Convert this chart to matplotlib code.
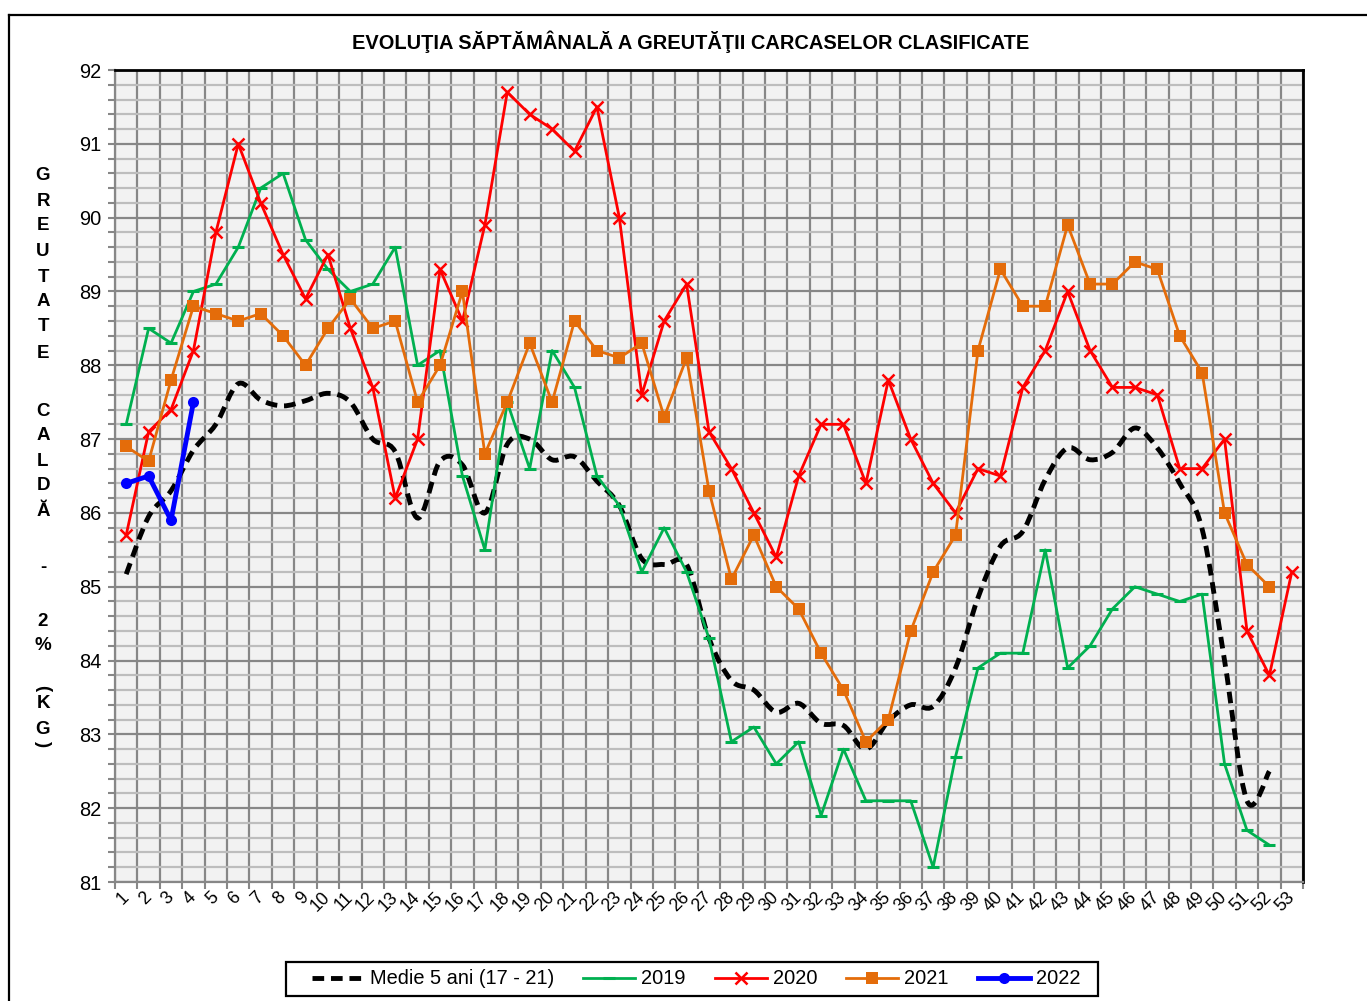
import numpy as np
import matplotlib
matplotlib.use("Agg")
import matplotlib.pyplot as plt
from matplotlib.path import Path
from matplotlib.patches import PathPatch, Rectangle
from matplotlib.lines import Line2D
from matplotlib.ticker import MultipleLocator, FixedLocator

plt.rcParams['font.family'] = ['Liberation Sans', 'DejaVu Sans']

weeks = list(range(1, 54))
week_labels = [str(w) for w in weeks]

medie = [85.17, 85.95, 86.3, 86.85, 87.2, 87.75, 87.53, 87.45, 87.52, 87.62,
         87.5, 87.0, 86.83, 85.93, 86.7, 86.65, 86.0, 86.93, 87.0, 86.72,
         86.76, 86.43, 86.1, 85.38, 85.3, 85.3, 84.3, 83.73, 83.6, 83.3,
         83.42, 83.15, 83.12, 82.8, 83.18, 83.4, 83.38, 83.9, 84.85, 85.55,
         85.75, 86.45, 86.88, 86.72, 86.82, 87.15, 86.88, 86.4, 85.78, 84.0,
         82.1, 82.5]
y2019 = [87.2, 88.5, 88.3, 89.0, 89.1, 89.6, 90.4, 90.6, 89.7, 89.3,
         89.0, 89.1, 89.6, 88.0, 88.2, 86.5, 85.5, 87.5, 86.6, 88.2,
         87.7, 86.5, 86.1, 85.2, 85.8, 85.2, 84.3, 82.9, 83.1, 82.6,
         82.9, 81.9, 82.8, 82.1, 82.1, 82.1, 81.2, 82.7, 83.9, 84.1,
         84.1, 85.5, 83.9, 84.2, 84.7, 85.0, 84.9, 84.8, 84.9, 82.6,
         81.7, 81.5]
y2020 = [85.7, 87.1, 87.4, 88.2, 89.8, 91.0, 90.2, 89.5, 88.9, 89.5,
         88.5, 87.7, 86.2, 87.0, 89.3, 88.6, 89.9, 91.7, 91.4, 91.2,
         90.9, 91.5, 90.0, 87.6, 88.6, 89.1, 87.1, 86.6, 86.0, 85.4,
         86.5, 87.2, 87.2, 86.4, 87.8, 87.0, 86.4, 86.0, 86.6, 86.5,
         87.7, 88.2, 89.0, 88.2, 87.7, 87.7, 87.6, 86.6, 86.6, 87.0,
         84.4, 83.8, 85.2]
y2021 = [86.9, 86.7, 87.8, 88.8, 88.7, 88.6, 88.7, 88.4, 88.0, 88.5,
         88.9, 88.5, 88.6, 87.5, 88.0, 89.0, 86.8, 87.5, 88.3, 87.5,
         88.6, 88.2, 88.1, 88.3, 87.3, 88.1, 86.3, 85.1, 85.7, 85.0,
         84.7, 84.1, 83.6, 82.9, 83.2, 84.4, 85.2, 85.7, 88.2, 89.3,
         88.8, 88.8, 89.9, 89.1, 89.1, 89.4, 89.3, 88.4, 87.9, 86.0,
         85.3, 85.0]
y2022 = [86.4, 86.5, 85.9, 87.5]

series_names = ["Medie 5 ani (17 - 21)", "2019", "2020", "2021", "2022"]
title = "EVOLUŢIA SĂPTĂMÂNALĂ A GREUTĂŢII CARCASELOR CLASIFICATE"
ylabel_chars = "GREUTATE CALDĂ - 2% (KG)"

C_GREEN = "#00B050"
C_RED = "#FF0000"
C_ORANGE = "#E46C0A"
C_BLUE = "#0000FF"
GRID_MAJ = "#878787"
GRID_MIN = "#BDBDBD"

W, H = 1367, 1001
fig = plt.figure(figsize=(W / 100, H / 100), dpi=100)
L, R, T, B = 115, 1303, 70, 882
ax = fig.add_axes([L / W, 1 - B / H, (R - L) / W, (B - T) / H])
ax.set_facecolor("#F2F2F2")
ax.set_xlim(0.5, 53.5)
ax.set_ylim(81, 92)

# ticks and grid
ax.xaxis.set_major_locator(FixedLocator(weeks))
ax.set_xticklabels(week_labels)
ax.xaxis.set_minor_locator(FixedLocator([w + 0.5 for w in range(0, 54)]))
ax.yaxis.set_major_locator(MultipleLocator(1))
ax.yaxis.set_minor_locator(MultipleLocator(0.2))
ax.tick_params(axis='x', which='major', length=0, pad=9, labelsize=12.8)
ax.tick_params(axis='x', which='minor', length=5, width=1.5, color=GRID_MAJ)
ax.tick_params(axis='y', which='both', length=5, width=1.5, color=GRID_MAJ,
               labelsize=14.4, pad=5)
for lab in ax.get_xticklabels():
    lab.set_rotation(45)
    lab.set_rotation_mode('anchor')
    lab.set_ha('right')
    lab.set_va('center')

ax.set_axisbelow(True)
ax.grid(axis='y', which='minor', color=GRID_MIN, lw=1.6)
ax.grid(axis='y', which='major', color=GRID_MAJ, lw=1.6)
ax.grid(axis='x', which='minor', color=GRID_MAJ, lw=1.6)
ax.grid(axis='x', which='major', visible=False)

for s in ['top', 'right']:
    ax.spines[s].set_color('black')
    ax.spines[s].set_linewidth(2)
for s in ['left', 'bottom']:
    ax.spines[s].set_color(GRID_MAJ)
    ax.spines[s].set_linewidth(1.6)


def smooth_path(xs, ys):
    pts = np.column_stack([xs, ys]).astype(float)
    n = len(pts)
    verts = [pts[0]]
    codes = [Path.MOVETO]
    for i in range(n - 1):
        p0 = pts[i - 1] if i > 0 else pts[i]
        p1 = pts[i]
        p2 = pts[i + 1]
        p3 = pts[i + 2] if i + 2 < n else pts[i + 1]
        c1 = p1 + (p2 - p0) / 6.0
        c2 = p2 - (p3 - p1) / 6.0
        verts += [c1, c2, p2]
        codes += [Path.CURVE4] * 3
    return Path(verts, codes)


dash = (0, (2.4, 1.4))
x_m = weeks[:len(medie)]
ax.add_patch(PathPatch(smooth_path(x_m, medie), fill=False, ec='black',
                       lw=3.5, ls=dash, capstyle='butt', zorder=3))

ax.plot(weeks[:len(y2019)], y2019, color=C_GREEN, lw=2, marker='_', ms=9,
        mew=2.2, zorder=4)
ax.plot(weeks[:len(y2020)], y2020, color=C_RED, lw=2, marker='x', ms=8,
        mew=1.8, zorder=5)
ax.plot(weeks[:len(y2021)], y2021, color=C_ORANGE, lw=2, marker='s', ms=8,
        mew=0, zorder=6)
ax.plot(weeks[:len(y2022)], y2022, color=C_BLUE, lw=3.5, marker='o', ms=8,
        mew=0, zorder=7)

handles = [
    Line2D([], [], color='black', lw=3.5, ls=dash),
    Line2D([], [], color=C_GREEN, lw=2, marker='_', ms=9, mew=2.2),
    Line2D([], [], color=C_RED, lw=2, marker='x', ms=8, mew=1.8),
    Line2D([], [], color=C_ORANGE, lw=2, marker='s', ms=8, mew=0),
    Line2D([], [], color=C_BLUE, lw=3.5, marker='o', ms=8, mew=0),
]
leg = fig.legend(handles, series_names, loc='center',
                 bbox_to_anchor=(696 / W, 1 - 979 / H), ncol=5,
                 fontsize=14.4, frameon=False, handlelength=2.6,
                 handletextpad=0.3, columnspacing=1.45, borderpad=0.4)
fig.add_artist(Rectangle((285.5 / W, 1 - 996 / H), 812 / W, 34 / H,
                         fill=False, ec='black', lw=1.6,
                         transform=fig.transFigure))

fig.text(691 / W, 1 - 42 / H, title, ha='center', va='center',
         fontsize=14.4, fontweight='bold')

# stacked vertical y-axis title
ypos = [176, 201, 226, 251, 277, 302, 327, 354, None, 411, 436, 461, 486, 511,
        None, 568, None, 621, 646, None, 688, 704, 730, 744]
for ch, yp in zip(ylabel_chars, ypos):
    if yp is None or ch == ' ':
        continue
    rot = -90 if ch in '()' else 0
    fig.text(43 / W, 1 - yp / H, ch, ha='center', va='center', fontsize=13.5,
             fontweight='bold', rotation=rot)

# outer chart border (left and top edges visible)
fig.add_artist(Line2D([8.5 / W, 8.5 / W], [0, 1 - 15 / H], color='black',
                      lw=1.6, transform=fig.transFigure))
fig.add_artist(Line2D([8.5 / W, 1], [1 - 15 / H, 1 - 15 / H], color='black',
                      lw=1.6, transform=fig.transFigure))

fig.savefig("out.png", dpi=100, facecolor='white')
